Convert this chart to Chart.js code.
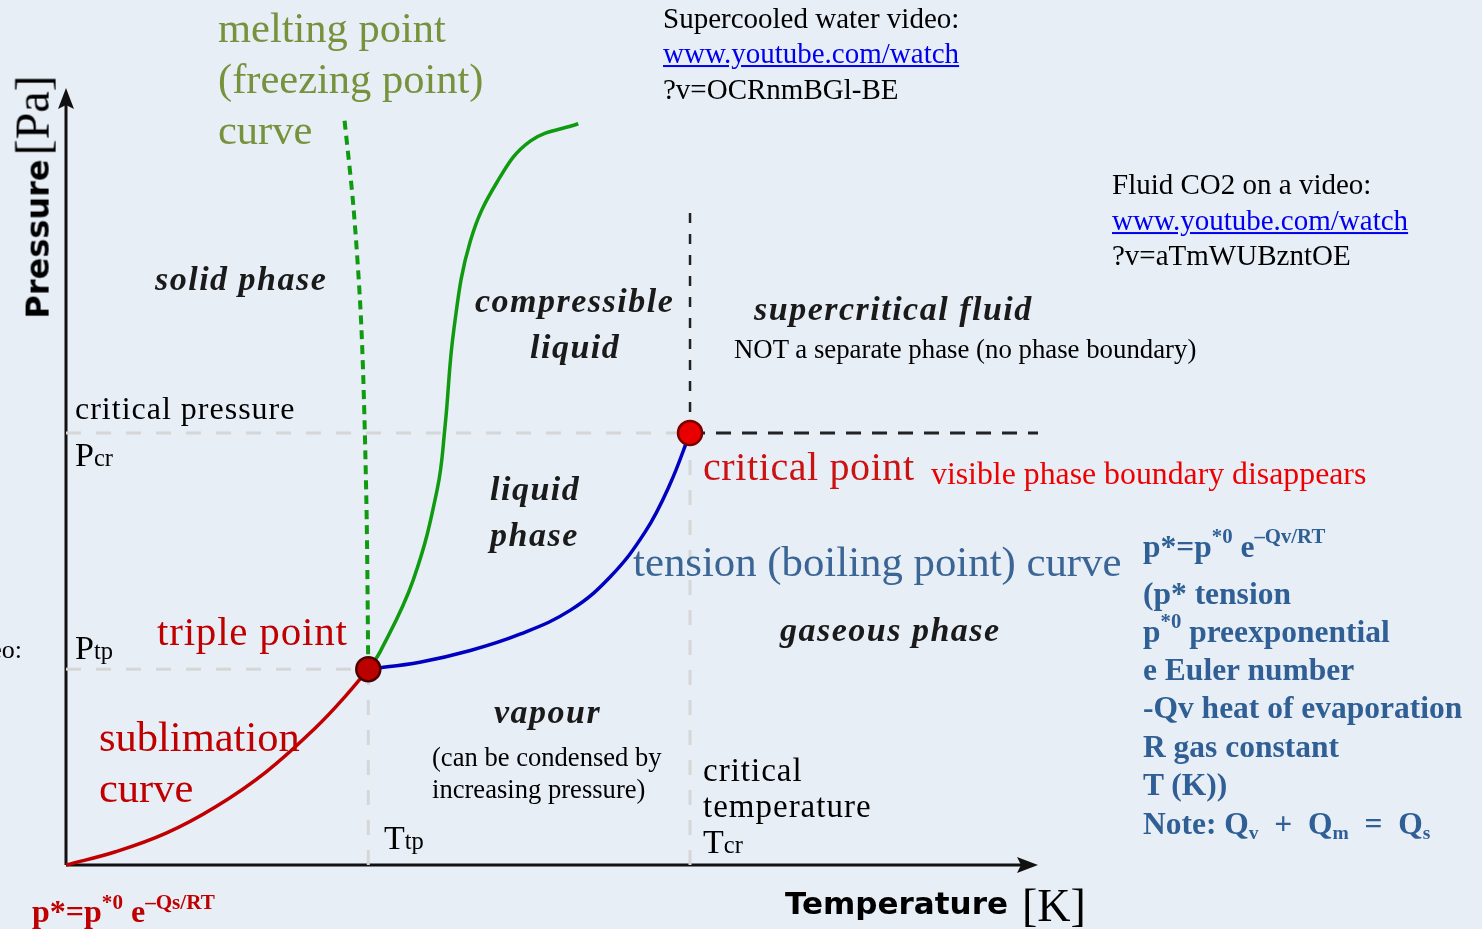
<!DOCTYPE html>
<html>
<head>
<meta charset="utf-8">
<script src="https://cdn.jsdelivr.net/npm/chart.js@4"></script>
<style>
  html, body { margin: 0; padding: 0; background: #e7eef6; overflow: hidden; }
  #wrap { position: relative; width: 1482px; height: 929px; }
  #chart { position: absolute; left: 0; top: 0; }
  .lbl { position: absolute; white-space: nowrap; transform: translateY(-50%); line-height: 1.1;
         font-family: "Liberation Serif", "Times New Roman", serif; color: #000; }
  .ph { font-weight: bold; font-style: italic; font-size: 34px; letter-spacing: 1.5px; color: #1a1a1a; }
  a.lk { color: #0000ee; text-decoration: underline; }
  .fm { font-weight: bold; font-size: 31.5px; color: #2f5f94; }
  sup { font-size: 66%; vertical-align: 0.65em; line-height: 0; }
  sub { font-size: 62%; vertical-align: -0.25em; line-height: 0; }
  .ix { font-size: 72%; }
</style>
</head>
<body>
<div id="wrap">
  <canvas id="chart" width="1482" height="929"></canvas>
</div>
<script>
// Phase diagram curves (temperature / pressure in relative units, 0-100 on each axis)
const sublimT = [0, 5.1, 10.3, 15.4, 20.6, 25.7, 28.8, 31.1];
const sublimP = [0, 1.7, 4.1, 7.5, 12.0, 17.7, 21.8, 25.2];

const boilT = [31.1, 36.4, 41.6, 46.7, 51.9, 56.0, 59.6, 62.1, 64.2];
const boilP = [25.2, 26.1, 27.6, 29.7, 32.8, 37.1, 42.9, 48.9, 55.6];

const meltT = [31.1, 32.3, 35.7, 38.2, 39.0, 39.9, 41.6, 44.4, 47.8, 52.7];
const meltP = [25.2, 27.4, 36.6, 48.4, 56.5, 68.9, 80.3, 88.0, 93.2, 95.4];

// water's anomalous melting curve (dashed)
const waterMeltT = [31.1, 30.9, 30.4, 29.6, 28.6];
const waterMeltP = [25.2, 47.0, 68.9, 84.3, 96.5];

const tripleT = 31.1, tripleP = 25.2;
const criticalT = 64.2, criticalP = 55.6;
const isothermTop = 84.0;
const axisMax = 100;

const pts = (xs, ys) => xs.map((x, i) => ({ x: x, y: ys[i] }));

const guideGray = '#d6d6d6';

const datasets = [
    {   // triple point
        data: [{ x: tripleT, y: tripleP }],
        pointRadius: 12, pointBackgroundColor: '#bb0000', pointBorderColor: '#4a0000', pointBorderWidth: 2.5,
        showLine: false
    },
    {   // critical point
        data: [{ x: criticalT, y: criticalP }],
        pointRadius: 12, pointBackgroundColor: '#e80000', pointBorderColor: '#7a0000', pointBorderWidth: 2.5,
        showLine: false
    },
    {   // sublimation curve
        data: pts(sublimT, sublimP), borderColor: '#c00000', borderWidth: 3.5, tension: 0.4
    },
    {   // tension (boiling) curve
        data: pts(boilT, boilP), borderColor: '#0000c0', borderWidth: 3.5, tension: 0.4
    },
    {   // melting curve
        data: pts(meltT, meltP), borderColor: '#0f9a0f', borderWidth: 3.5, tension: 0.4
    },
    {   // water melting curve, dashed
        data: pts(waterMeltT, waterMeltP), borderColor: '#0f9a0f', borderWidth: 4,
        borderDash: [9, 6], tension: 0.3
    },
    {   // critical isotherm above critical point
        data: [{ x: criticalT, y: criticalP }, { x: criticalT, y: isothermTop }],
        borderColor: '#222', borderWidth: 2.5, borderDash: [10, 11]
    },
    {   // critical isobar to the right
        data: [{ x: criticalT, y: criticalP }, { x: axisMax, y: criticalP }],
        borderColor: '#222', borderWidth: 3, borderDash: [15, 11]
    },
    // light guide lines
    { data: [{ x: 0, y: criticalP }, { x: criticalT, y: criticalP }], borderColor: guideGray, borderWidth: 3, borderDash: [15, 15] },
    { data: [{ x: criticalT, y: 0 }, { x: criticalT, y: criticalP }], borderColor: guideGray, borderWidth: 3, borderDash: [15, 15] },
    { data: [{ x: 0, y: tripleP }, { x: tripleT, y: tripleP }], borderColor: guideGray, borderWidth: 3, borderDash: [15, 15] },
    { data: [{ x: tripleT, y: 0 }, { x: tripleT, y: tripleP }], borderColor: guideGray, borderWidth: 3, borderDash: [15, 15] }
];

datasets.forEach(d => {
    if (d.showLine === undefined) d.showLine = true;
    if (d.pointRadius === undefined) d.pointRadius = 0;
    d.clip = false;
    d.fill = false;
});

// axes with arrow heads
const arrowAxes = {
    id: 'arrowAxes',
    beforeDatasetsDraw(chart) {
        const c = chart.ctx, xs = chart.scales.x, ys = chart.scales.y;
        const x0 = xs.getPixelForValue(0), y0 = ys.getPixelForValue(0);
        const xe = xs.getPixelForValue(axisMax), ye = ys.getPixelForValue(axisMax);
        c.save();
        c.strokeStyle = '#111';
        c.fillStyle = '#111';
        c.lineWidth = 3;
        c.beginPath();
        c.moveTo(x0, y0);
        c.lineTo(x0, ye + 14);
        c.moveTo(x0, y0);
        c.lineTo(xe - 14, y0);
        c.stroke();
        c.beginPath();
        c.moveTo(x0, ye);
        c.lineTo(x0 - 8, ye + 21);
        c.lineTo(x0, ye + 17);
        c.lineTo(x0 + 8, ye + 21);
        c.closePath();
        c.fill();
        c.beginPath();
        c.moveTo(xe, y0);
        c.lineTo(xe - 21, y0 - 8);
        c.lineTo(xe - 17, y0);
        c.lineTo(xe - 21, y0 + 8);
        c.closePath();
        c.fill();
        c.restore();
    }
};

new Chart(document.getElementById('chart'), {
    type: 'scatter',
    data: { datasets: datasets },
    options: {
        responsive: false,
        animation: false,
        devicePixelRatio: 1,
        layout: { padding: { left: 66, top: 88, right: 444, bottom: 64 } },
        plugins: { legend: { display: false }, tooltip: { enabled: false } },
        scales: {
            x: { type: 'linear', min: 0, max: axisMax, display: false },
            y: { type: 'linear', min: 0, max: axisMax, display: false }
        }
    },
    plugins: [arrowAxes]
});

// text labels (left, vertical centre, html, extra style)
const olive = 'color:#76923c;font-size:42.5px;';
const darkRed = 'color:#c00000;';
const small = 'font-size:29px;';
const libert = 'letter-spacing:1px;';
const labels = [
    [218, 28, 'melting point', olive],
    [218, 79, '(freezing point)', olive],
    [218, 130, 'curve', olive],
    [663, 19, 'Supercooled water video:', small],
    [663, 54, '<a class="lk">www.youtube.com/watch</a>', small],
    [663, 90, '?v=OCRnmBGl-BE', small],
    [1112, 185, 'Fluid CO2 on a video:', small],
    [1112, 221, '<a class="lk">www.youtube.com/watch</a>', small],
    [1112, 256, '?v=aTmWUBzntOE', small],
    [155, 279, '<span class="ph">solid phase</span>', ''],
    [475, 301, '<span class="ph">compressible</span>', ''],
    [530, 347, '<span class="ph">liquid</span>', ''],
    [754, 309, '<span class="ph">supercritical fluid</span>', ''],
    [734, 350, 'NOT a separate phase (no phase boundary)', 'font-size:26.8px;'],
    [75, 409, 'critical pressure', 'font-size:32px;' + libert],
    [75, 455, 'P<span class="ix">cr</span>', 'font-size:34px;'],
    [490, 489, '<span class="ph">liquid</span>', ''],
    [490, 535, '<span class="ph">phase</span>', ''],
    [703, 467, 'critical point', 'font-size:40px;letter-spacing:0.6px;color:#cc1111;'],
    [931, 474, 'visible phase boundary disappears', 'font-size:31.8px;color:#ee0000;'],
    [633, 562, 'tension (boiling point) curve', 'font-size:42.8px;color:#3a6595;'],
    [1143, 547, '<span class="fm">p*=p<sup>*0</sup> e<sup>–Qv/RT</sup></span>', ''],
    [1143, 594, '<span class="fm">(p* tension</span>', ''],
    [1143, 632, '<span class="fm">p<sup>*0</sup> preexponential</span>', ''],
    [1143, 670, '<span class="fm">e Euler number</span>', ''],
    [1143, 708, '<span class="fm">-Qv heat of evaporation</span>', ''],
    [1143, 747, '<span class="fm">R gas constant</span>', ''],
    [1143, 785, '<span class="fm">T (K))</span>', ''],
    [1143, 824, '<span class="fm">Note: Q<sub>v</sub> &nbsp;+ &nbsp;Q<sub>m</sub> &nbsp;= &nbsp;Q<sub>s</sub></span>', ''],
    [157, 632, 'triple point', 'font-size:41px;letter-spacing:0.8px;' + darkRed],
    [75, 648, 'P<span class="ix">tp</span>', 'font-size:34px;'],
    [-43, 650, 'video:', 'font-size:26px;'],
    [780, 630, '<span class="ph">gaseous phase</span>', ''],
    [494, 712, '<span class="ph">vapour</span>', ''],
    [432, 758, '(can be condensed by', 'font-size:26.6px;'],
    [432, 790, 'increasing pressure)', 'font-size:26.6px;'],
    [99, 737, 'sublimation', 'font-size:42.5px;' + darkRed],
    [99, 788, 'curve', 'font-size:42.5px;' + darkRed],
    [384, 838, 'T<span class="ix">tp</span>', 'font-size:34px;'],
    [703, 770, 'critical', 'font-size:33px;' + libert],
    [703, 806, 'temperature', 'font-size:33px;' + libert],
    [703, 842, 'T<span class="ix">cr</span>', 'font-size:34px;'],
    [785, 903, '<span style="font-family:\'DejaVu Sans\';font-weight:bold;font-size:31px;">Temperature</span>', ''],
    [1022, 906, '[K]', 'font-size:46px;'],
    [32, 912, 'p*=p<sup>*0</sup> e<sup>–Qs/RT</sup>', 'font-size:32px;font-weight:bold;' + darkRed]
];

const wrap = document.getElementById('wrap');
labels.forEach(l => {
    const div = document.createElement('div');
    div.className = 'lbl';
    div.style.cssText = 'left:' + l[0] + 'px;top:' + l[1] + 'px;' + l[3];
    div.innerHTML = l[2];
    wrap.appendChild(div);
});

// rotated y axis title
const yTitle = document.createElement('div');
yTitle.className = 'lbl';
yTitle.style.cssText = 'left:33px;top:197px;transform:translate(-50%,-50%) rotate(-90deg);';
yTitle.innerHTML = '<span style="font-family:\'DejaVu Sans\';font-weight:bold;font-size:32px;">Pressure</span> <span style="font-size:48px;">[Pa]</span>';
wrap.appendChild(yTitle);
</script>
</body>
</html>
